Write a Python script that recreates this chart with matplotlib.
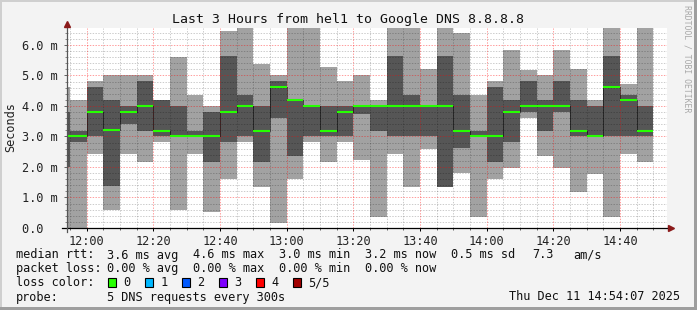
import numpy as np
import matplotlib
matplotlib.use('Agg')
import matplotlib.pyplot as plt
from matplotlib.ticker import FixedLocator, MultipleLocator, FuncFormatter
from matplotlib.patches import Rectangle
from matplotlib.lines import Line2D

# 5 DNS requests every 300s, rtt in ms, sorted per step (ping1 lowest .. ping5 highest)
first_slot = '11:50'
step_min = 5
ping5 = [4.63, 4.20, 4.82, 5.02, 5.02, 5.02, 4.20, 5.61, 4.36, 4.00, 6.47, 6.60,
         5.38, 5.02, 6.60, 6.60, 5.29, 4.82, 5.02, 4.20, 6.60, 6.60, 5.21, 6.60,
         6.39, 4.36, 4.82, 5.84, 5.18, 5.02, 5.84, 5.21, 4.20, 6.60, 4.72, 6.60]
ping4 = [3.79, 3.17, 4.63, 4.20, 4.00, 4.82, 4.20, 4.00, 3.17, 3.81, 5.64, 4.36,
         4.00, 4.82, 4.20, 4.00, 4.00, 4.00, 4.00, 4.00, 5.64, 4.36, 4.00, 5.64,
         4.36, 3.19, 4.63, 4.20, 4.82, 4.20, 4.82, 4.20, 4.00, 5.64, 4.36, 4.00]
median = [3.00, 3.00, 3.81, 3.20, 3.81, 4.00, 3.19, 3.00, 3.00, 3.00, 3.81, 4.00,
          3.19, 4.63, 4.20, 4.00, 3.19, 3.81, 4.00, 4.00, 4.00, 4.00, 4.00, 4.00,
          3.19, 3.00, 3.00, 3.81, 4.00, 4.00, 4.00, 3.19, 3.00, 4.63, 4.20, 3.19]
ping2 = [1.99, 2.81, 3.00, 1.37, 3.41, 3.19, 3.00, 3.00, 3.00, 2.17, 2.81, 3.00,
         2.17, 3.61, 2.37, 3.00, 3.00, 3.00, 3.74, 3.19, 3.00, 3.00, 3.00, 1.36,
         2.62, 3.00, 2.17, 2.81, 3.81, 3.19, 3.81, 3.00, 3.00, 3.00, 3.00, 3.00]
ping1 = [0.00, 0.00, 2.43, 0.59, 2.43, 2.17, 2.81, 0.59, 2.43, 0.54, 1.61, 2.81,
         1.36, 0.16, 1.61, 2.81, 2.17, 2.81, 2.24, 0.37, 2.43, 1.36, 2.59, 1.36,
         1.80, 0.37, 1.61, 1.97, 3.61, 2.37, 1.97, 1.19, 1.77, 0.37, 2.43, 2.17]

view_start = '11:54:07'
view_end = '14:54:07'
y_top = 6.557
ytick_vals = [0, 1, 2, 3, 4, 5, 6]
ytick_labels = ['0.0  ', '1.0 m', '2.0 m', '3.0 m', '4.0 m', '5.0 m', '6.0 m']
xtick_times = ['12:00', '12:20', '12:40', '13:00', '13:20', '13:40', '14:00', '14:20', '14:40']

title = 'Last 3 Hours from hel1 to Google DNS 8.8.8.8'
rtt_stats = ['3.6 ms avg', '4.6 ms max', '3.0 ms min', '3.2 ms now', '0.5 ms sd', '7.3', 'am/s']
loss_stats = ['0.00 % avg', '0.00 % max', '0.00 % min', '0.00 % now']
loss_labels = ['0', '1', '2', '3', '4', '5/5']
loss_colors = ['#26ff00', '#00b8ff', '#0059ff', '#7e00ff', '#ff0000', '#a10000']
probe_text = '5 DNS requests every 300s'
stamp = 'Thu Dec 11 14:54:07 2025'

W, H = 697, 310
BG = '#f3f3f3'
LIGHT = '#a2a2a2'
DARK = '#565656'
MONO = 'DejaVu Sans Mono'
GRID_MINOR = (0, 0, 0, 0.2)
GRID_MAJOR = (1, 0, 0, 0.38)


def to_min(s):
    parts = [int(p) for p in s.split(':')]
    return parts[0] * 60 + parts[1] + (parts[2] / 60 if len(parts) > 2 else 0)


def fx(px):
    return px / W


def fy(py):
    return 1 - py / H


slots = to_min(first_slot) + step_min * np.arange(len(median))
ping1, ping2, median, ping4, ping5 = map(np.array, (ping1, ping2, median, ping4, ping5))
x0, x1 = to_min(view_start), to_min(view_end)

fig = plt.figure(figsize=(W / 100, H / 100), dpi=100)
fig.patch.set_facecolor(BG)
ax = fig.add_axes([fx(67), fy(228), 600 / W, 200 / H])
ax.set_facecolor('white')

# smoke
ax.bar(slots, ping5 - ping1, bottom=ping1, width=step_min, align='edge', color=LIGHT, linewidth=0, zorder=1)
ax.bar(slots, ping4 - ping2, bottom=ping2, width=step_min, align='edge', color=DARK, linewidth=0, zorder=1.1)

# grid (dotted, drawn over the smoke like rrdtool does)
major_x = [to_min(t) for t in xtick_times]
minor_x = [v for v in np.arange(np.ceil(x0 / step_min) * step_min, x1, step_min) if v not in major_x]
minor_y = [v for v in np.round(np.arange(0.2, y_top, 0.2), 1) if v not in ytick_vals]
dots = (0, (1.4, 1.4))
ax.vlines(minor_x, 0, y_top, color=GRID_MINOR, linewidth=0.72, linestyle=dots, zorder=2)
ax.hlines(minor_y, x0, x1, color=GRID_MINOR, linewidth=0.72, linestyle=dots, zorder=2)
ax.vlines(major_x, 0, y_top, color=GRID_MAJOR, linewidth=0.72, linestyle=dots, zorder=2.1)
ax.hlines(ytick_vals[1:], x0, x1, color=GRID_MAJOR, linewidth=0.72, linestyle=dots, zorder=2.1)

# median
ax.hlines(median, slots, slots + step_min, color=loss_colors[0], linewidth=1.5, zorder=4, capstyle='butt')
ax.vlines(slots[1:], median[:-1], median[1:], color='black', linewidth=0.72, linestyle=(0, (1, 1)), zorder=3.5)

ax.set_xlim(x0, x1)
ax.set_ylim(0, y_top)

ax.xaxis.set_major_locator(FixedLocator(major_x))
ax.xaxis.set_major_formatter(FuncFormatter(lambda v, p: '%02d:%02d' % (int(v) // 60, int(round(v)) % 60)))
ax.xaxis.set_minor_locator(MultipleLocator(step_min))
ax.yaxis.set_major_locator(FixedLocator(ytick_vals))
ax.set_yticklabels(ytick_labels)
ax.yaxis.set_minor_locator(MultipleLocator(0.2))

for s in ax.spines.values():
    s.set_visible(False)

ax.tick_params(axis='both', which='both', labelsize=8.6, width=0.72)
ax.tick_params(axis='y', which='major', length=2.2, pad=4.3, color='#666666')
ax.tick_params(axis='y', which='minor', length=1.5, color='#888888')
ax.tick_params(axis='x', which='major', length=2.2, pad=2.5, color='black')
ax.tick_params(axis='x', which='minor', length=1.2, color='#666666')
for lab in ax.get_xticklabels() + ax.get_yticklabels():
    lab.set_family(MONO)
    lab.set_color('#222222')

# axis lines with arrows
fig.add_artist(Line2D([fx(62), fx(669)], [fy(228), fy(228)], color='black', linewidth=0.9))
fig.add_artist(Line2D([fx(67), fx(67)], [fy(232), fy(24)], color='#555555', linewidth=0.9))
fig.add_artist(Line2D([fx(67)], [fy(23.5)], marker='^', markersize=4.5, color='#8b1a1a', linestyle='none'))
fig.add_artist(Line2D([fx(670.5)], [fy(228)], marker='>', markersize=4.5, color='#8b1a1a', linestyle='none'))

# frame
fig.add_artist(Rectangle((0, fy(2)), 1, 2 / H, transform=fig.transFigure, color='#cfcfcf', linewidth=0))
fig.add_artist(Rectangle((0, 0), fx(2), 1, transform=fig.transFigure, color='#cfcfcf', linewidth=0))
fig.add_artist(Rectangle((fx(694), 0), 3 / W, 1, transform=fig.transFigure, color='#9e9e9e', linewidth=0))
fig.add_artist(Rectangle((0, 0), 1, 3 / H, transform=fig.transFigure, color='#9e9e9e', linewidth=0))

# texts
fig.text(fx(348), fy(19), title, family=MONO, fontsize=9.5, ha='center', va='center', color='#111111')
fig.text(fx(11), fy(127), 'Seconds', family=MONO, fontsize=8.6, rotation=90, ha='center', va='center', color='#222222')
fig.text(fx(686.5), fy(5), 'RRDTOOL / TOBI OETIKER', family=MONO, fontsize=5.9, rotation=270,
         ha='center', va='top', color='#a8a8a8')

tk = dict(family=MONO, fontsize=8.6, va='center', color='#111111')
fig.text(fx(16), fy(255), 'median rtt:', **tk)
for xp, s in zip([107, 193, 279, 365, 451, 532, 573], rtt_stats):
    fig.text(fx(xp), fy(255), s, **tk)
fig.text(fx(16), fy(268.5), 'packet loss:', **tk)
for xp, s in zip([107, 193, 279, 365], loss_stats):
    fig.text(fx(xp), fy(268.5), s, **tk)
fig.text(fx(16), fy(282.5), 'loss color:', **tk)
for i, (lab, col) in enumerate(zip(loss_labels, loss_colors)):
    bx = 108 + 37 * i
    fig.add_artist(Rectangle((fx(bx), fy(287)), 8 / W, 9 / H, transform=fig.transFigure,
                             facecolor=col, edgecolor='black', linewidth=0.8))
    fig.text(fx(bx + 15.5), fy(282.5), lab, **tk)
fig.text(fx(16), fy(297), 'probe:', **tk)
fig.text(fx(107), fy(297), probe_text, **tk)
fig.text(fx(680), fy(297), stamp, ha='right', **tk)

fig.savefig('out.png', dpi=100, facecolor=fig.get_facecolor())
